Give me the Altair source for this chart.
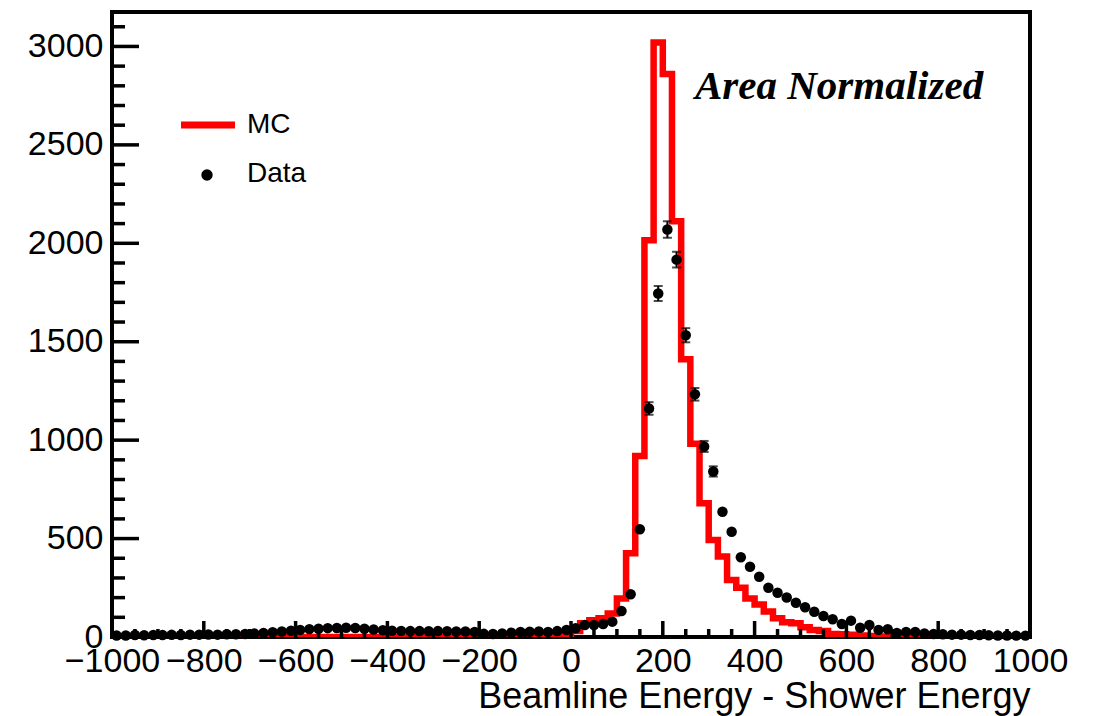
import altair as alt
import pandas as pd

# ---------------- data ----------------
bin_edges = list(range(-1000, 1001, 20))          # 101 edges, 100 bins
bin_centers = [e + 10 for e in bin_edges[:-1]]

# MC histogram contents (area normalized), bins -1000..1000 step 20
mc_values = [
    0, 0, 0, 0, 0, 0, 0, 0, 0, 0,
    0, 0, 0, 0, 0, 0, 0, 0, 0, 0,
    0, 0, 0, 0, 0, 0, 0, 0, 0, 0,
    0, 0, 0, 0, 0, 0, 0, 0, 0, 0,
    2, 2, 3, 3, 4, 4, 5, 6, 8, 10,
    30, 70, 85, 95, 120, 195, 425, 920, 2015, 3020,
    2860, 2112, 1411, 982, 679, 493, 409, 289, 250, 195,
    165, 130, 95, 75, 70, 50, 35, 30, 15, 14,
    12, 8, 5, 2, 1, 0, 0, 0, 0, 0,
    0, 0, 0, 0, 0, 0, 0, 0, 0, 0,
]

# Data points, same binning
data_values = [
    8, 8, 10, 9, 10, 10, 11, 10, 12, 12,
    13, 12, 14, 14, 15, 18, 20, 24, 28, 32,
    36, 40, 42, 45, 46, 47, 46, 42, 38, 34,
    32, 31, 30, 30, 29, 30, 29, 28, 28, 26,
    16, 15, 18, 22, 25, 27, 28, 26, 30, 36,
    44, 61, 61, 66, 78, 132, 217, 547, 1161, 1745,
    2070, 1917, 1533, 1233, 968, 841, 636, 535, 405, 357,
    306, 250, 225, 201, 174, 151, 128, 107, 90, 66,
    83, 47, 61, 36, 39, 20, 25, 25, 18, 15,
    14, 12, 12, 10, 10, 9, 8, 8, 7, 7,
]

# visible statistical error bars (bin center -> error)
err_centers = [170, 190, 210, 230, 250, 270, 290, 310]
err_values = [32, 38, 42, 40, 36, 32, 28, 26]

x_major = list(range(-1000, 1001, 200))
x_minor = [v for v in range(-1000, 1001, 50) if v % 200 != 0]
y_major = list(range(0, 3001, 500))
y_minor = [v for v in range(0, 3101, 100) if v % 500 != 0]

legend_labels = ["MC", "Data"]
annotation = "Area Normalized"
x_title = "Beamline Energy - Shower Energy"

# ---------------- tables ----------------
mc_df = pd.DataFrame({"edge": bin_edges, "val": mc_values + [mc_values[-1]]})
data_df = pd.DataFrame({"x": bin_centers, "y": data_values})
err_df = pd.DataFrame({
    "x": err_centers,
    "lo": [data_values[bin_centers.index(c)] - e for c, e in zip(err_centers, err_values)],
    "hi": [data_values[bin_centers.index(c)] + e for c, e in zip(err_centers, err_values)],
})

W, H = 918, 625
FONT = "Liberation Sans"

xscale = alt.Scale(domain=[-1000, 1000], nice=False, zero=False)
yscale = alt.Scale(domain=[0, 3175], nice=False, zero=False)

xaxis = alt.Axis(values=x_major, format="d", ticks=False, tickSize=0, domain=False, grid=False,
                 labelFont=FONT, labelFontSize=34, labelColor="black", labelPadding=7,
                 labelFlush=False, labelOverlap=False, labelBound=False,
                 title=x_title, titleFont=FONT, titleFontSize=36, titleFontWeight="normal",
                 titleColor="black", titleAnchor="end", titleAlign="right",
                 titleBaseline="alphabetic", titleY=70)
yaxis = alt.Axis(values=y_major, format="d", ticks=False, tickSize=0, domain=False, grid=False,
                 labelFont=FONT, labelFontSize=34, labelColor="black", labelPadding=9,
                 labelFlush=False, labelOverlap=False, labelBound=False, title=None)

mc_line = alt.Chart(mc_df).mark_line(
    interpolate="step-after", color="#ff0000", strokeWidth=6.5, clip=True,
    strokeJoin="miter", strokeCap="butt"
).encode(
    x=alt.X("edge:Q", scale=xscale, axis=xaxis),
    y=alt.Y("val:Q", scale=yscale, axis=yaxis),
)

err_rules = alt.Chart(err_df).mark_rule(color="black", strokeWidth=2).encode(
    x=alt.X("x:Q", scale=xscale), y=alt.Y("lo:Q", scale=yscale), y2="hi:Q"
)
err_caps_lo = alt.Chart(err_df).mark_tick(color="black", orient="horizontal", size=9, thickness=2).encode(
    x=alt.X("x:Q", scale=xscale), y=alt.Y("lo:Q", scale=yscale)
)
err_caps_hi = alt.Chart(err_df).mark_tick(color="black", orient="horizontal", size=9, thickness=2).encode(
    x=alt.X("x:Q", scale=xscale), y=alt.Y("hi:Q", scale=yscale)
)

points = alt.Chart(data_df).mark_circle(color="black", opacity=1, size=110).encode(
    x=alt.X("x:Q", scale=xscale), y=alt.Y("y:Q", scale=yscale)
)

# inward ticks (ROOT style)
xmaj_df = pd.DataFrame({"v": x_major})
xmin_df = pd.DataFrame({"v": x_minor})
ymaj_df = pd.DataFrame({"v": y_major})
ymin_df = pd.DataFrame({"v": y_minor})
tick_style = dict(color="black", strokeWidth=3.5)
xmaj_ticks = alt.Chart(xmaj_df).mark_rule(**tick_style).encode(
    x=alt.X("v:Q", scale=xscale), y=alt.value(H), y2=alt.value(H - 16))
xmin_ticks = alt.Chart(xmin_df).mark_rule(**tick_style).encode(
    x=alt.X("v:Q", scale=xscale), y=alt.value(H), y2=alt.value(H - 8))
ymaj_ticks = alt.Chart(ymaj_df).mark_rule(**tick_style).encode(
    y=alt.Y("v:Q", scale=yscale), x=alt.value(0), x2=alt.value(27))
ymin_ticks = alt.Chart(ymin_df).mark_rule(**tick_style).encode(
    y=alt.Y("v:Q", scale=yscale), x=alt.value(0), x2=alt.value(13))

# legend
one = pd.DataFrame({"a": [0]})
leg_line = alt.Chart(one).mark_rule(color="#ff0000", strokeWidth=7).encode(
    x=alt.value(69), x2=alt.value(123), y=alt.value(113))
leg_dot = alt.Chart(one).mark_circle(color="black", opacity=1, size=130).encode(
    x=alt.value(95), y=alt.value(163))
leg_text = alt.Chart(pd.DataFrame({"t": legend_labels, "yy": [113, 162]})).mark_text(
    font=FONT, fontSize=28, align="left", baseline="middle", color="black"
).encode(x=alt.value(135), y=alt.Y("yy:Q", scale=None), text="t:N")

ann = alt.Chart(pd.DataFrame({"t": [annotation]})).mark_text(
    font="Liberation Serif", fontSize=41, fontStyle="italic", fontWeight="bold",
    align="left", baseline="alphabetic", color="black"
).encode(x=alt.value(583), y=alt.value(87), text="t:N")

chart = alt.layer(
    mc_line, err_rules, err_caps_lo, err_caps_hi, points,
    xmaj_ticks, xmin_ticks, ymaj_ticks, ymin_ticks,
    leg_line, leg_dot, leg_text, ann
).properties(
    width=W, height=H,
    autosize=alt.AutoSizeParams(type="none"),
    padding={"left": 104, "top": 4, "right": 56, "bottom": 80},
    background="white",
).configure_view(stroke="black", strokeWidth=4)

chart.save("out.html", embed_options={"renderer": "svg", "actions": False})
